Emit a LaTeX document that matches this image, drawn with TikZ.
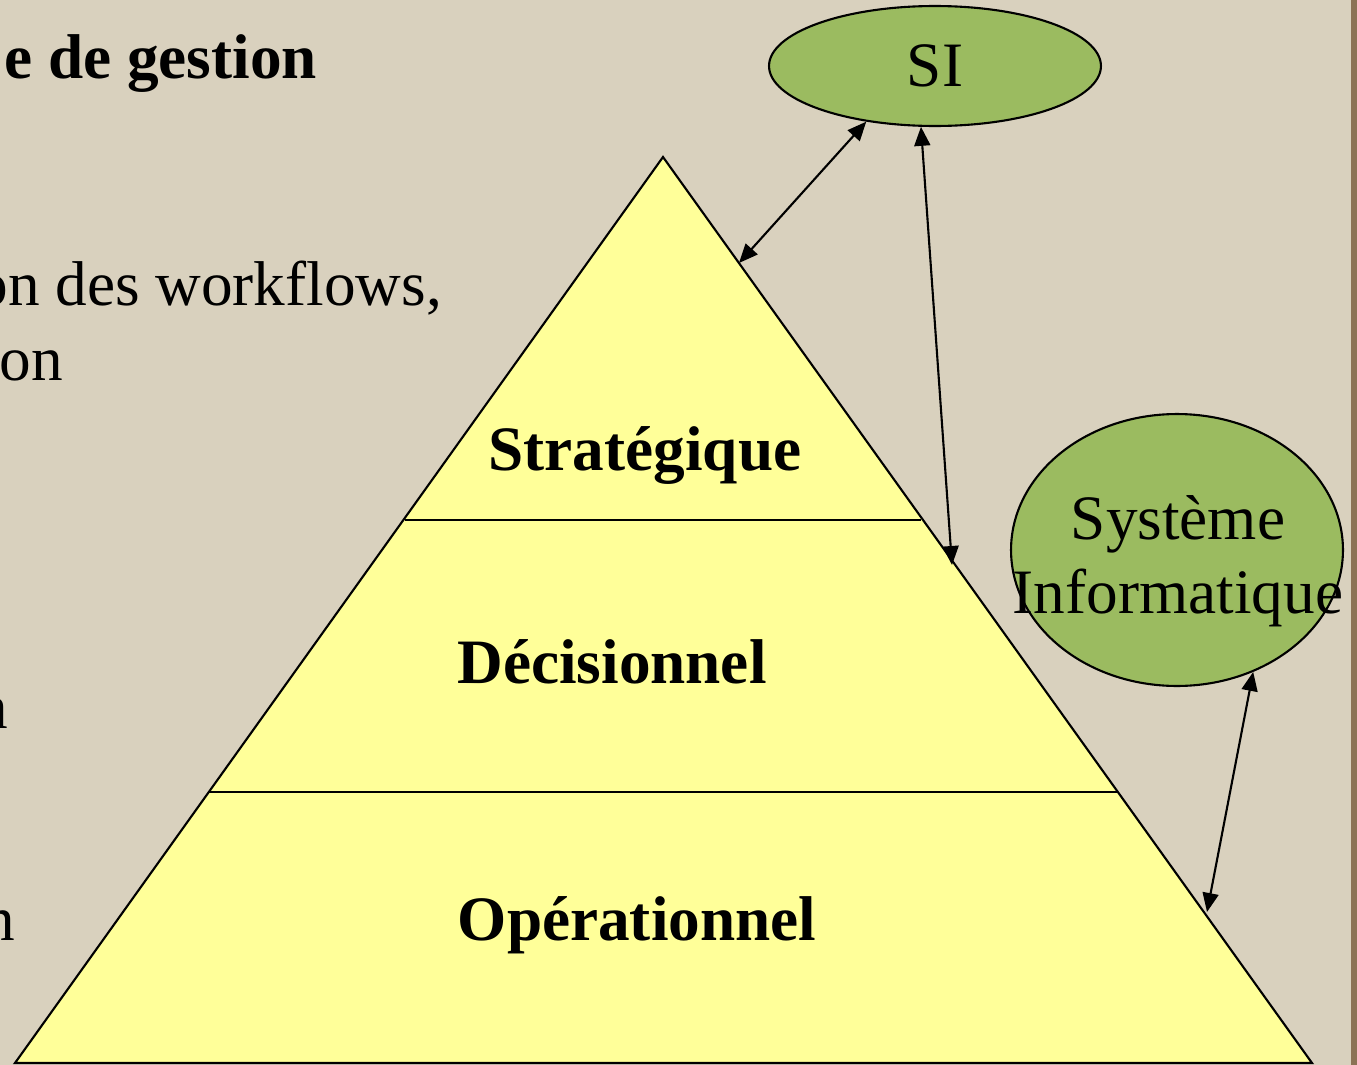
\documentclass[tikz,border=0pt]{standalone}
\usepackage{fontspec}
\setmainfont{Liberation Serif}
\usetikzlibrary{positioning,shapes.geometric,arrows.meta}

\definecolor{canvas}{RGB}{217,209,190}
\definecolor{edge}{RGB}{140,115,85}
\definecolor{pyr}{RGB}{255,255,153}
\definecolor{sigreen}{RGB}{155,187,96}

\begin{document}
\begin{tikzpicture}[x=0.02cm, y=-0.02cm, line width=1.2pt,
    >={Triangle[length=0.38cm,width=0.32cm]},
    layer/.style = {font=\fontsize{36}{42}\selectfont\bfseries, anchor=base},
    side/.style = {font=\fontsize{36}{42}\selectfont, anchor=base east, inner sep=0pt},
    blob/.style = {draw, ellipse, fill=sigreen, inner sep=0pt, font=\fontsize{36}{42}\selectfont}
    ]
\useasboundingbox (0,0) rectangle (1357,1065);
\fill[canvas] (0,0) rectangle (1357,1065);
\fill[edge] (1351,0) rectangle (1357,1065);

% text of the slide, cut at the left
\node[side, font=\fontsize{36}{42}\selectfont\bfseries] (title) at (318,78) {e de gestion};
\node[side] (wf) at (443,305) {on des workflows,};
\node[side] (on) at (64,380) {on};
\node[side] (n1) at (9,728) {n};
\node[side] (n2) at (16,940) {n};

% pyramid
\coordinate (apex) at (663,157);
\coordinate (bl) at (15,1063);
\coordinate (br) at (1312,1063);
\coordinate (s1l) at (405,520);
\coordinate (s1r) at (921,520);
\coordinate (s2l) at (208,792);
\coordinate (s2r) at (1117,792);
\draw[fill=pyr] (apex) -- (bl) -- (br) -- cycle;
\draw (s1l) -- (s1r);
\draw (s2l) -- (s2r);

\node[layer] (strat) at (645,470) {Stratégique};
\node[layer] (deci) at (612,683) {Décisionnel};
\node[layer] (oper) at (637,940) {Opérationnel};

% systems
\node[blob, minimum width=6.64cm, minimum height=2.4cm] (si) at (935,66) {SI};
\node[blob, minimum width=6.64cm, minimum height=5.44cm] (sysinfo) at (1177,550) {};
\node[font=\fontsize{36}{42}\selectfont, align=center] (sysinfotext) at (1178,561) {Système\\Informatique};

\coordinate (e1) at (739,263);
\coordinate (e2) at (952,565);
\coordinate (e3) at (1207,912);

\draw[<->] (e1) -- (si.219);
\draw[<->] (si.257) -- (e2);
\draw[<->] (sysinfo.302) -- (e3);

\end{tikzpicture}
\end{document}
